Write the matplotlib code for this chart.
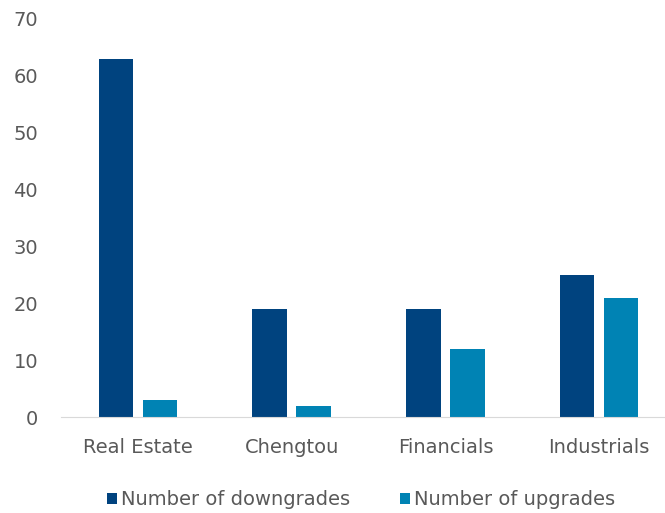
import numpy as np
import matplotlib.pyplot as plt

sectors = ["Real Estate", "Chengtou", "Financials", "Industrials"]
downgrades = [63, 19, 19, 25]
upgrades = [3, 2, 12, 21]

grey = "#595959"
plt.rcParams["font.family"] = ["DejaVu Sans"]

fig = plt.figure(figsize=(6.65, 5.13), dpi=100)
# axes run slightly past the right edge so the last category sits near the border
ax = fig.add_axes([61 / 665, 0.187, 615 / 665, 0.776])

x = np.arange(len(sectors))
w = 0.224
ax.bar(x - 0.143, downgrades, w, color="#00437f", label="Number of downgrades")
ax.bar(x + 0.143, upgrades, w, color="#0083b4", label="Number of upgrades")

ax.set_xlim(-0.5, len(sectors) - 0.5)
ax.set_ylim(0, 70)
ax.set_yticks(range(0, 71, 10))
ax.set_xticks(x)
ax.set_xticklabels(sectors)
ax.tick_params(length=0, labelsize=14, labelcolor=grey)
ax.tick_params(axis="x", pad=15)
ax.tick_params(axis="y", pad=16.5)

for side in ["top", "right", "left"]:
    ax.spines[side].set_visible(False)
ax.spines["bottom"].set_color("#d9d9d9")

fig.legend(loc="lower center", bbox_to_anchor=(0.543, -0.027), ncol=2, frameon=False,
           fontsize=14, labelcolor=grey, handlelength=0.5, handleheight=0.5,
           handletextpad=0.2, columnspacing=2.6)

fig.savefig("out.png", dpi=100)
